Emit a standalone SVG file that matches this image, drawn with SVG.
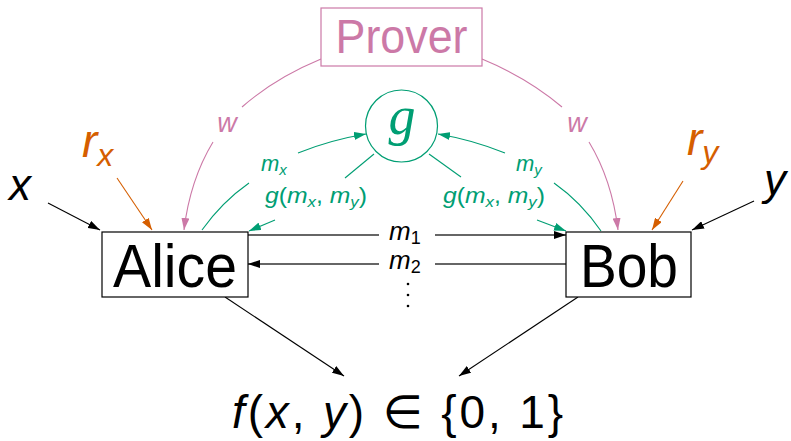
<svg xmlns="http://www.w3.org/2000/svg" width="791" height="441" viewBox="0 0 791 441">
<style>
.k{stroke:#000;stroke-width:1.1;fill:none}
.kg{stroke:#333;stroke-width:1.4;fill:none}
.p{stroke:#CC79A7;stroke-width:1.1;fill:none}
.g{stroke:#009E73;stroke-width:1.1;fill:none}
.o{stroke:#D55E00;stroke-width:1.1;fill:none}
text{font-family:"Liberation Sans","DejaVu Sans",sans-serif}
.it{font-style:italic}
</style>
<defs>
<marker id="ak" viewBox="0 0 12 8" refX="12" refY="4" markerWidth="12" markerHeight="8" markerUnits="userSpaceOnUse" orient="auto"><path d="M0,0 L12,4 L0,8 z" fill="#000"/></marker>
<marker id="ap" viewBox="0 0 12 8" refX="12" refY="4" markerWidth="12" markerHeight="8" markerUnits="userSpaceOnUse" orient="auto"><path d="M0,0 L12,4 L0,8 z" fill="#CC79A7"/></marker>
<marker id="ag" viewBox="0 0 12 8" refX="12" refY="4" markerWidth="12" markerHeight="8" markerUnits="userSpaceOnUse" orient="auto"><path d="M0,0 L12,4 L0,8 z" fill="#009E73"/></marker>
<marker id="ao" viewBox="0 0 12 8" refX="12" refY="4" markerWidth="12" markerHeight="8" markerUnits="userSpaceOnUse" orient="auto"><path d="M0,0 L12,4 L0,8 z" fill="#D55E00"/></marker>
</defs>

<g id="connectors">
  <path class="k" d="M48,203 L100,230" marker-end="url(#ak)"/>
  <path class="o" d="M117,178 L152,230" marker-end="url(#ao)"/>
  <path class="k" d="M754,201 L692,230" marker-end="url(#ak)"/>
  <path class="o" d="M683,181 L652,230" marker-end="url(#ao)"/>
  <path class="p" d="M321,59 Q275,78 242,107"/>
  <path class="p" d="M213,142 Q190,180 184,230" marker-end="url(#ap)"/>
  <path class="p" d="M482,59 Q528,78 562,107"/>
  <path class="p" d="M589,142 Q612,180 618,230" marker-end="url(#ap)"/>
  <path class="g" d="M202,230 Q222,202 249,183"/>
  <path class="g" d="M298,153 Q330,140 366,134" marker-end="url(#ag)"/>
  <path class="g" d="M374,154 L345,178"/>
  <path class="g" d="M275,220 L249,231" marker-end="url(#ag)"/>
  <path class="g" d="M601,231 Q581,202 554,183"/>
  <path class="g" d="M505,153 Q473,140 438,134" marker-end="url(#ag)"/>
  <path class="g" d="M429,154 L461,177"/>
  <path class="g" d="M537,220 L566,231" marker-end="url(#ag)"/>
  <path class="kg" d="M248,235 L379,235"/>
  <path class="kg" d="M435,235 L566,235" marker-end="url(#ak)"/>
  <path class="kg" d="M566,264 L435,264"/>
  <path class="kg" d="M379,264 L248,264" marker-end="url(#ak)"/>
  <path class="k" d="M225,297 L344,376" marker-end="url(#ak)"/>
  <path class="k" d="M578,297 L459,376" marker-end="url(#ak)"/>
</g>

<g id="prover">
  <rect x="321" y="8" width="161" height="58" fill="#fff" stroke="#CC79A7" stroke-width="1.2"/>
  <text x="401.5" y="53" font-size="48" fill="#CC79A7" text-anchor="middle" textLength="132" lengthAdjust="spacingAndGlyphs">Prover</text>
</g>

<g id="gnode">
  <circle cx="401.5" cy="126" r="36" fill="#fff" stroke="#009E73" stroke-width="1.2"/>
  <text x="402" y="134" font-size="54" fill="#009E73" text-anchor="middle" font-style="italic" style="font-family:'Liberation Serif','DejaVu Serif',serif">g</text>
</g>

<g id="alice">
  <rect x="102" y="232" width="146" height="65" fill="#fff" stroke="#000" stroke-width="1.2"/>
  <text x="175" y="287" font-size="62" text-anchor="middle" textLength="124" lengthAdjust="spacingAndGlyphs">Alice</text>
</g>

<g id="bob">
  <rect x="566" y="232" width="125" height="65" fill="#fff" stroke="#000" stroke-width="1.2"/>
  <text x="629" y="287" font-size="62" text-anchor="middle" textLength="98" lengthAdjust="spacingAndGlyphs">Bob</text>
</g>

<g id="labels">
  <text x="9" y="200" font-size="44" class="it">x</text>
  <text x="764" y="195" font-size="44" class="it">y</text>
  <text x="82" y="157" font-size="46" class="it" fill="#D55E00">r<tspan font-size="32" dy="9">x</tspan></text>
  <text x="687" y="155" font-size="46" class="it" fill="#D55E00">r<tspan font-size="32" dy="8">y</tspan></text>
  <text x="227" y="132" font-size="27" class="it" fill="#CC79A7" text-anchor="middle">w</text>
  <text x="577" y="132" font-size="27" class="it" fill="#CC79A7" text-anchor="middle">w</text>
  <text x="261" y="171" font-size="22" class="it" fill="#009E73">m<tspan font-size="15" dy="4">x</tspan></text>
  <text x="516" y="171" font-size="22" class="it" fill="#009E73">m<tspan font-size="15" dy="4">y</tspan></text>
  <text x="265" y="203" font-size="22" fill="#009E73" textLength="102" lengthAdjust="spacingAndGlyphs"><tspan class="it">g</tspan>(<tspan class="it">m</tspan><tspan class="it" font-size="15" dy="4">x</tspan><tspan dy="-4">, </tspan><tspan class="it">m</tspan><tspan class="it" font-size="15" dy="4">y</tspan><tspan dy="-4">)</tspan></text>
  <text x="443" y="203" font-size="22" fill="#009E73" textLength="102" lengthAdjust="spacingAndGlyphs"><tspan class="it">g</tspan>(<tspan class="it">m</tspan><tspan class="it" font-size="15" dy="4">x</tspan><tspan dy="-4">, </tspan><tspan class="it">m</tspan><tspan class="it" font-size="15" dy="4">y</tspan><tspan dy="-4">)</tspan></text>
  <text x="389" y="240" font-size="26" class="it">m<tspan font-size="18" dy="4" font-style="normal">1</tspan></text>
  <text x="389" y="269" font-size="26" class="it">m<tspan font-size="18" dy="4" font-style="normal">2</tspan></text>
  <circle cx="408" cy="284" r="1.3"/>
  <circle cx="408" cy="295" r="1.3"/>
  <circle cx="408" cy="306" r="1.3"/>
  <text x="232" y="428" font-size="46" textLength="331" lengthAdjust="spacing"><tspan class="it">f</tspan>(<tspan class="it">x</tspan>, <tspan class="it">y</tspan>) ∈ {0, 1}</text>
</g>
</svg>
